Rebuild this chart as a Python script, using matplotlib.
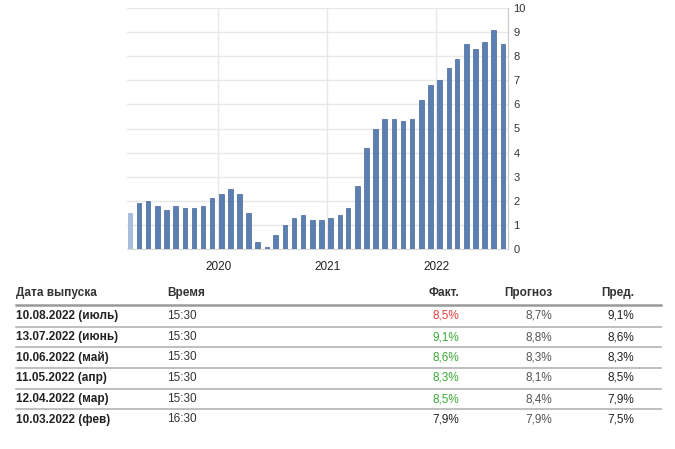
import numpy as np
import pandas as pd
import matplotlib
matplotlib.use("Agg")
import matplotlib.pyplot as plt
import matplotlib.dates as mdates

plt.rcParams['font.family'] = ['Liberation Sans', 'DejaVu Sans']

# ИПЦ США г/г, %, по месяцам данных (фев 2019 - июль 2022)
data_months = pd.date_range("2019-02-01", periods=42, freq="MS")
cpi = [1.5, 1.9, 2.0, 1.8, 1.6, 1.8, 1.7, 1.7, 1.8, 2.1, 2.3,
       2.5, 2.3, 1.5, 0.3, 0.1, 0.6, 1.0, 1.3, 1.4, 1.2, 1.2, 1.3,
       1.4, 1.7, 2.6, 4.2, 5.0, 5.4, 5.4, 5.3, 5.4, 6.2, 6.8, 7.0,
       7.5, 7.9, 8.5, 8.3, 8.6, 9.1, 8.5]
year_ticks = ["2020", "2021", "2022"]

# таблица
col_names = ["Дата выпуска", "Время", "Факт.", "Прогноз", "Пред."]
dates = ["10.08.2022 (июль)", "13.07.2022 (июнь)", "10.06.2022 (май)",
         "11.05.2022 (апр)", "12.04.2022 (мар)", "10.03.2022 (фев)"]
times = ["15:30", "15:30", "15:30", "15:30", "15:30", "16:30"]
fact = ["8,5%", "9,1%", "8,6%", "8,3%", "8,5%", "7,9%"]
forecast = ["8,7%", "8,8%", "8,3%", "8,1%", "8,4%", "7,9%"]
prev = ["9,1%", "8,6%", "8,3%", "8,5%", "7,9%", "7,5%"]
fact_col = ["#f03c3c", "#3aaa35", "#3aaa35", "#3aaa35", "#3aaa35", "#222222"]

W, H = 675, 449
fig = plt.figure(figsize=(W / 100, H / 100), dpi=100)

# позиции баров = дата публикации (~12 число следующего месяца)
release = data_months + pd.DateOffset(months=1, days=11)

ax = fig.add_axes([127 / W, 1 - 249 / H, (508 - 127) / W, (249 - 8) / H])
colors = ["#a9bfdc"] + ["#5a7fb0"] * (len(cpi) - 1)
edges = ["#98b0d0"] + ["#46689a"] * (len(cpi) - 1)
ax.bar(release, cpi, width=15, color=colors, edgecolor=edges, linewidth=0.5, zorder=3)

ax.set_xlim(pd.Timestamp("2019-03-02"), pd.Timestamp("2022-08-29"))
ax.set_ylim(0, 10)
ax.set_yticks(range(0, 11))
ax.yaxis.tick_right()
ax.set_xticks([pd.Timestamp(y + "-01-01") for y in year_ticks])
ax.set_xticklabels(year_ticks)
ax.tick_params(axis="y", length=0, pad=4, labelsize=8, labelcolor="#333333")
ax.tick_params(axis="x", length=0, pad=9, labelsize=8.5, labelcolor="#222222")
ax.grid(True, color="#e8e8e8", linewidth=1, zorder=0)
for s in ["top", "left"]:
    ax.spines[s].set_visible(False)
ax.spines["right"].set_color("#c8c8c8")
ax.spines["bottom"].set_color("#d8d8d8")

# таблица ниже графика
def fy(y):
    return 1 - y / H

fs = 8.5
header_y = 293
row_y = [316, 337, 357.5, 378, 399, 419.5]
col_x = [16, 167, 459, 552, 634]
aligns = ["left", "left", "right", "right", "right"]

for name, x, ha in zip(col_names, col_x, aligns):
    fig.text(x / W, fy(header_y), name, ha=ha, va="center", fontsize=fs,
             fontweight="bold", color="#333333")

fig.add_artist(plt.Line2D([16 / W, 661 / W], [fy(304.5)] * 2, color="#9a9a9a", linewidth=1.8))
for i in range(len(dates)):
    y = row_y[i]
    fig.text(col_x[0] / W, fy(y), dates[i], ha="left", va="center", fontsize=fs,
             fontweight="bold", color="#222222")
    fig.text(col_x[1] / W, fy(y), times[i], ha="left", va="center", fontsize=fs, color="#333333")
    fig.text(col_x[2] / W, fy(y), fact[i], ha="right", va="center", fontsize=fs, color=fact_col[i])
    fig.text(col_x[3] / W, fy(y), forecast[i], ha="right", va="center", fontsize=fs, color="#555555")
    fig.text(col_x[4] / W, fy(y), prev[i], ha="right", va="center", fontsize=fs, color="#222222")
    if i < len(dates) - 1:
        yl = (row_y[i] + row_y[i + 1]) / 2
        fig.add_artist(plt.Line2D([16 / W, 661 / W], [fy(yl)] * 2, color="#b4b4b4", linewidth=1.2))

fig.savefig("out.png", dpi=100)
